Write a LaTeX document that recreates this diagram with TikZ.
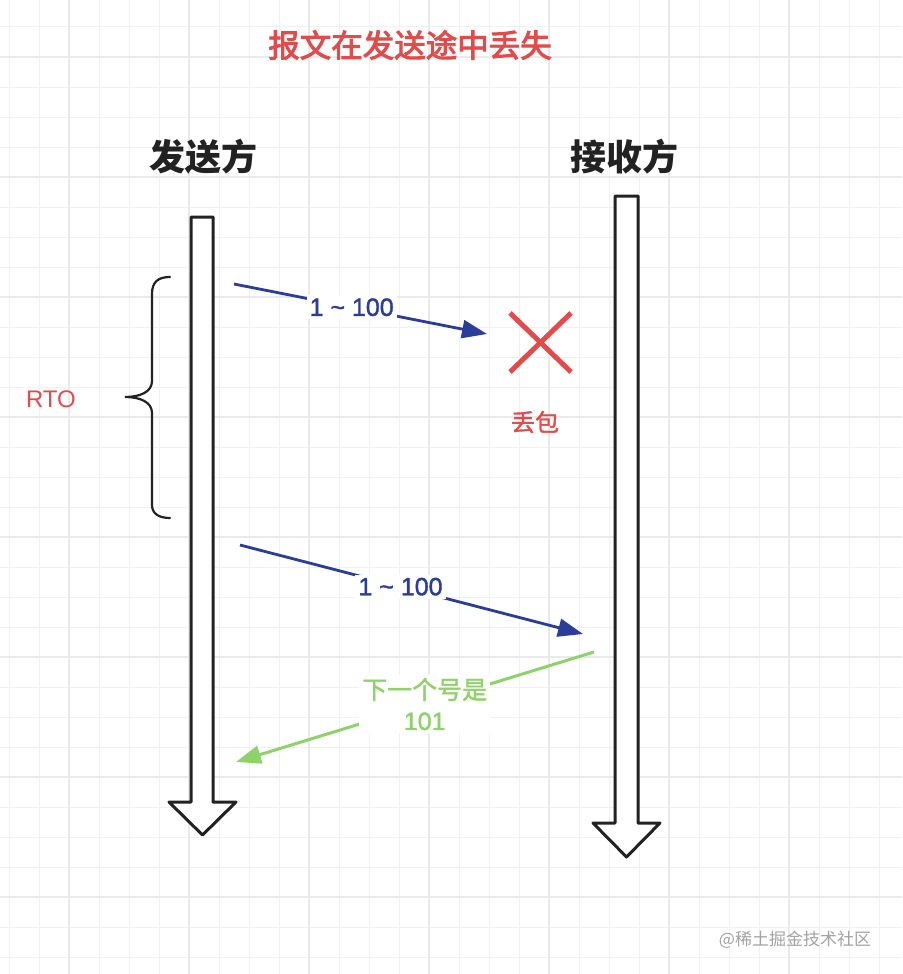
\documentclass[tikz,border=0pt]{standalone}
\usepackage{fontspec}
\setmainfont{Noto Sans CJK SC}
\newfontfamily\titlefont{Noto Sans CJK SC}[FakeBold=3]
\newfontfamily\medfont{Noto Sans CJK SC}[FakeBold=1.5]
\newfontfamily\latinfont{Liberation Sans}[FakeBold=1.5]
\newfontfamily\latinreg{Liberation Sans}
\usetikzlibrary{arrows.meta}
\definecolor{myred}{HTML}{E34B4B}
\definecolor{myblue}{HTML}{2B3D9B}
\definecolor{mygreen}{HTML}{8ED36A}
\definecolor{ink}{HTML}{222222}
\definecolor{gridminor}{HTML}{F1F1F1}
\definecolor{gridmajor}{HTML}{EAEAEA}
\definecolor{wm}{HTML}{A3A3A3}
\tikzset{
  minorline/.style={draw=gridminor, line width=1},
  majorline/.style={draw=gridmajor, line width=1.3},
  titletext/.style={text=myred, font=\fontsize{31.5}{36}\titlefont, inner sep=0},
  headtext/.style={text=ink, font=\fontsize{36}{42}\selectfont\bfseries, inner sep=0},
  lifeline/.style={draw=ink, fill=white, line width=3, line join=round},
  bluearrow/.style={draw=myblue, line width=2.8, -{Triangle[length=25, width=18]}},
  greenarrow/.style={draw=mygreen, line width=3, -{Triangle[length=25, width=18]}},
  bluelabel/.style={fill=white, text=myblue, inner sep=3, font=\fontsize{25}{28}\latinfont},
  greenlabel/.style={fill=white, text=mygreen, inner sep=3, align=center, font=\fontsize{25}{31}\medfont},
  redtext/.style={text=myred, inner sep=0, font=\fontsize{24}{28}\medfont},
  rtotext/.style={text=myred, inner sep=0, font=\fontsize{24}{28}\latinreg},
  crossline/.style={draw=myred, line width=5},
  bracestyle/.style={draw=ink, line width=2.2, line cap=round},
  wmtext/.style={text=wm, inner sep=0, font=\fontsize{17}{20}\selectfont}
}
\begin{document}
\begin{tikzpicture}[x=1pt, y=-1pt]
\useasboundingbox (0,0) rectangle (902,974);
\fill[white] (0,0) rectangle (902,974);
% grid
\foreach \i in {0,...,30} {
  \draw[minorline] ({9+30*\i},0) -- ({9+30*\i},974);
}
\foreach \j in {-1,...,32} {
  \draw[minorline] (0,{27+30*\j}) -- (902,{27+30*\j});
}
\foreach \i in {0,...,7} {
  \draw[majorline] ({69+120*\i},0) -- ({69+120*\i},974);
}
\foreach \j in {0,...,7} {
  \draw[majorline] (0,{57+120*\j}) -- (902,{57+120*\j});
}
% texts
\node[titletext] (title) at (410,45) {报文在发送途中丢失};
\node[headtext] (snd) at (203,157) {发送方};
\node[headtext] (rcv) at (624,157) {接收方};
% lifelines
\draw[lifeline] (191,217) -- (213,217) -- (213,802) -- (236,802) -- (202.5,835) -- (169,802) -- (191,802) -- cycle;
\draw[lifeline] (615,196) -- (638,196) -- (638,823) -- (660,823) -- (626.5,857) -- (593,823) -- (615,823) -- cycle;
% brace
\draw[bracestyle] (170,277) .. controls (158,277) and (152,282) .. (152,294) -- (152,381)
  .. controls (152,392) and (140,397) .. (125,397)
  .. controls (140,397) and (152,402) .. (152,413) -- (152,505)
  .. controls (152,513) and (158,518) .. (170,518);
\node[rtotext] (rto) at (51,399) {RTO};
% first send (lost)
\coordinate (s1) at (234,284);
\coordinate (e1) at (487,334);
\draw[bluearrow] (s1) -- node[bluelabel, pos=0.465] (l1) {1 \char`\~{} 100} (e1);
\coordinate (xa) at (510,313);
\coordinate (xb) at (571,372);
\coordinate (xc) at (571,313);
\coordinate (xd) at (510,372);
\draw[crossline] (xa) -- (xb);
\draw[crossline] (xc) -- (xd);
\node[redtext] (lost) at (535,422) {丢包};
% retransmission
\coordinate (s2) at (240,545);
\coordinate (e2) at (583,634);
\draw[bluearrow] (s2) -- node[bluelabel, pos=0.468] (l2) {1 \char`\~{} 100} (e2);
% ack
\coordinate (s3) at (594,652);
\coordinate (e3) at (236,762);
\draw[greenarrow] (s3) -- node[greenlabel, pos=0.473] (l3) {下一个号是\\{\latinfont 101}} (e3);
% watermark
\node[wmtext] (wmk) at (795,940) {@稀土掘金技术社区};
\end{tikzpicture}
\end{document}
